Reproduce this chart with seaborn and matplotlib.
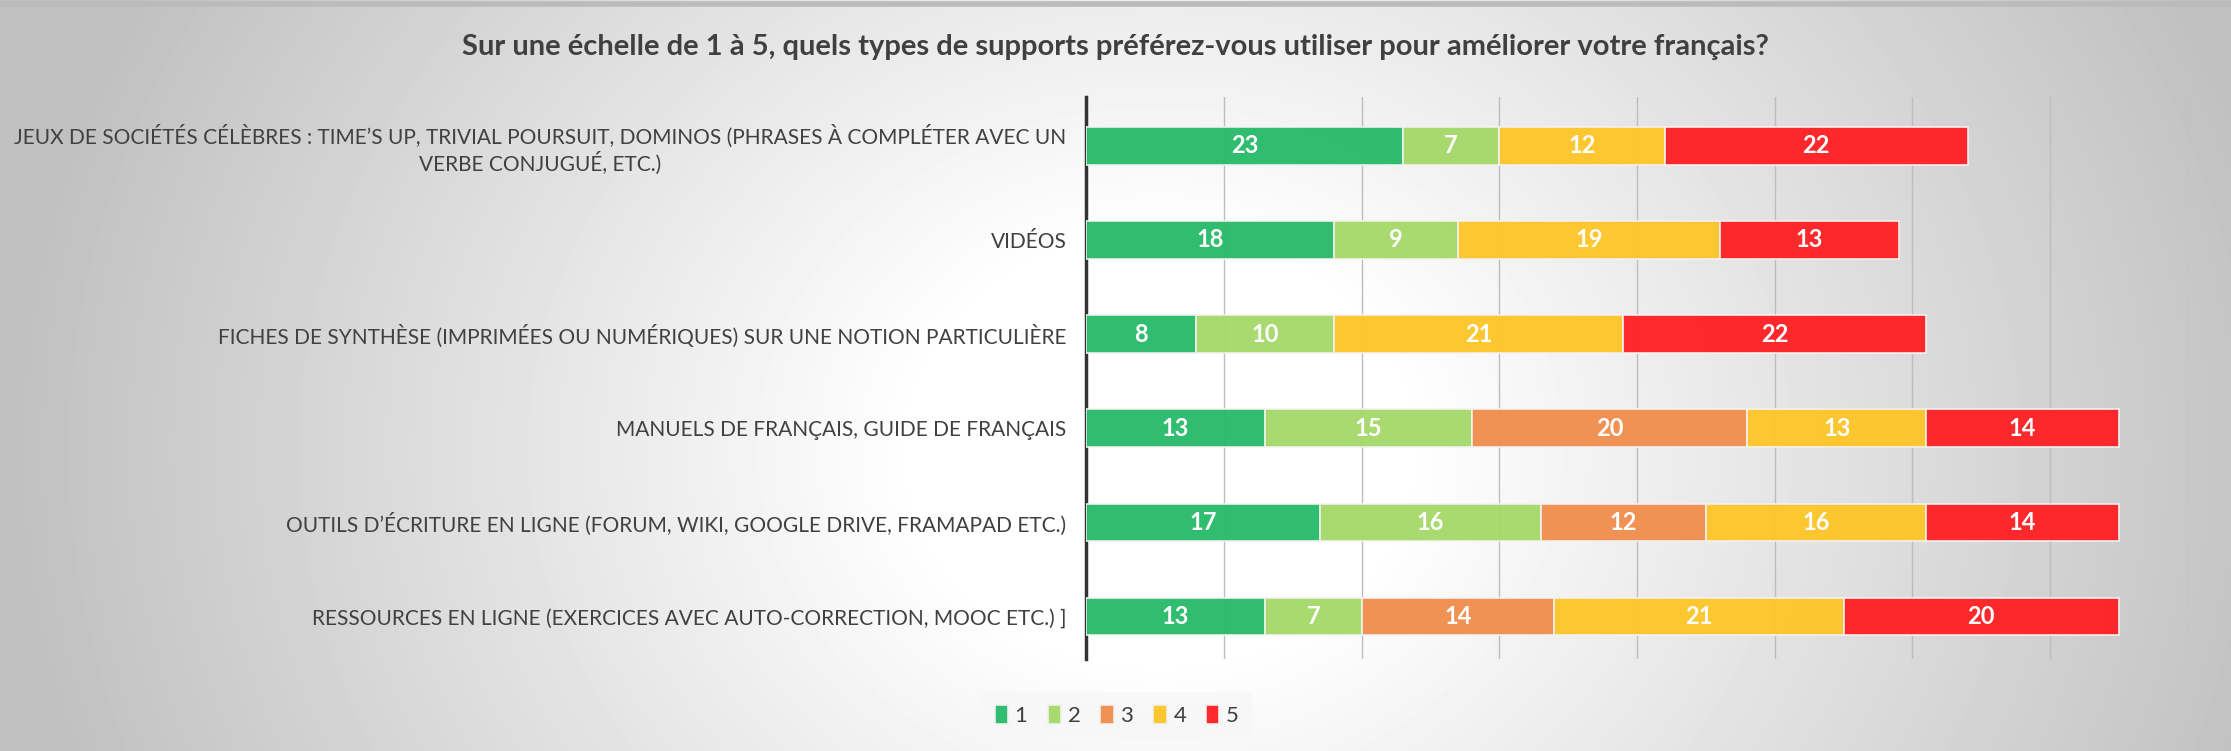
import numpy as np
import pandas as pd
import seaborn as sns
import matplotlib.pyplot as plt

# Données
categories = [
    "JEUX DE SOCIÉTÉS CÉLÈBRES : TIME’S UP, TRIVIAL POURSUIT, DOMINOS (PHRASES À COMPLÉTER AVEC UN\nVERBE CONJUGUÉ, ETC.)",
    "VIDÉOS",
    "FICHES DE SYNTHÈSE (IMPRIMÉES OU NUMÉRIQUES) SUR UNE NOTION PARTICULIÈRE",
    "MANUELS DE FRANÇAIS, GUIDE DE FRANÇAIS",
    "OUTILS D’ÉCRITURE EN LIGNE (FORUM, WIKI, GOOGLE DRIVE, FRAMAPAD ETC.)",
    "RESSOURCES EN LIGNE (EXERCICES AVEC AUTO-CORRECTION, MOOC ETC.) ]",
]
niveaux = ["1", "2", "3", "4", "5"]
n1 = [23, 18, 8, 13, 17, 13]
n2 = [7, 9, 10, 15, 16, 7]
n3 = [np.nan, np.nan, np.nan, 20, 12, 14]
n4 = [12, 19, 21, 13, 16, 21]
n5 = [22, 13, 22, 14, 14, 20]
couleurs = ["#29BB6B", "#A6D96A", "#F08F4E", "#FDC62A", "#FE2226"]
titre = "Sur une échelle de 1 à 5, quels types de supports préférez-vous utiliser pour améliorer votre français?"

plt.rcParams["font.family"] = ["Lato", "DejaVu Sans"]

fig = plt.figure(figsize=(22.31, 7.51), dpi=100)

# Fond en dégradé radial
bg = fig.add_axes([0, 0, 1, 1], zorder=-10)
xx, yy = np.meshgrid(np.linspace(0, 1, 400), np.linspace(0, 1, 140))
d = np.sqrt(((xx - 0.52) / 0.55) ** 2 + ((yy - 0.6) / 1.4) ** 2)
val = 1 - 0.25 * np.clip((d - 0.2) / 0.75, 0, 1)
bg.imshow(val, cmap="gray", vmin=0, vmax=1, aspect="auto", extent=[0, 1, 0, 1],
          origin="upper", interpolation="bilinear")
bg.axhline(0.995, color="#bbbbbb", linewidth=4)
bg.set_xlim(0, 1)
bg.set_ylim(0, 1)
bg.axis("off")

ax = fig.add_axes([0.4868, 0.1225, 0.4939, 0.7485])
ax.set_facecolor("none")

series = [n1, n2, n3, n4, n5]
gauche = np.zeros(len(categories))
for nom, vals, c in zip(niveaux, series, couleurs):
    df = pd.DataFrame({"cat": categories, "val": vals, "gauche": gauche})
    df = df.dropna()
    sns.barplot(data=df, x="val", y="cat", orient="y", order=categories,
                left=df["gauche"].to_numpy(), color=c, saturation=1,
                width=0.4, edgecolor="#f2f2f2", linewidth=1.2, errorbar=None,
                label=nom, ax=ax, zorder=3, alpha=0.97)
    cont = ax.containers[-1]
    ax.bar_label(cont, labels=[f"{int(v)}" for v in df["val"]], label_type="center",
                 color="white", fontweight="bold", fontsize=17)
    gauche = gauche + np.nan_to_num(np.array(vals, dtype=float))

ax.set_xlim(0, 80)
ax.set_ylim(5.45, -0.52)
ax.set_xticks(range(0, 81, 10))
ax.set_xticklabels([])
ax.tick_params(axis="both", length=0)
ax.tick_params(axis="y", labelsize=15, labelcolor="#404040", pad=14)
for lab in ax.get_yticklabels():
    lab.set_multialignment("center")
ax.grid(axis="x", color="#bdbdbd", linewidth=1, zorder=0)
ax.set_axisbelow(True)
for s in ["top", "right", "bottom"]:
    ax.spines[s].set_visible(False)
ax.spines["left"].set_color("#333333")
ax.spines["left"].set_linewidth(2.5)
ax.set_xlabel("")
ax.set_ylabel("")
if ax.get_legend() is not None:
    ax.get_legend().remove()

fig.text(0.5, 0.938, titre, ha="center", va="center", fontsize=21,
         fontweight="bold", color="#404040")

h, l = ax.get_legend_handles_labels()
leg = fig.legend(h, l, loc="center", bbox_to_anchor=(0.5006, 0.047), ncol=5,
                 fontsize=16, handlelength=0.6, handleheight=0.9, handletextpad=0.3,
                 columnspacing=0.9, frameon=True, fancybox=False, borderpad=0.6)
leg.get_frame().set_facecolor("#f7f7f7")
leg.get_frame().set_edgecolor("none")
for t in leg.get_texts():
    t.set_color("#404040")

fig.savefig("out.png", dpi=100)
